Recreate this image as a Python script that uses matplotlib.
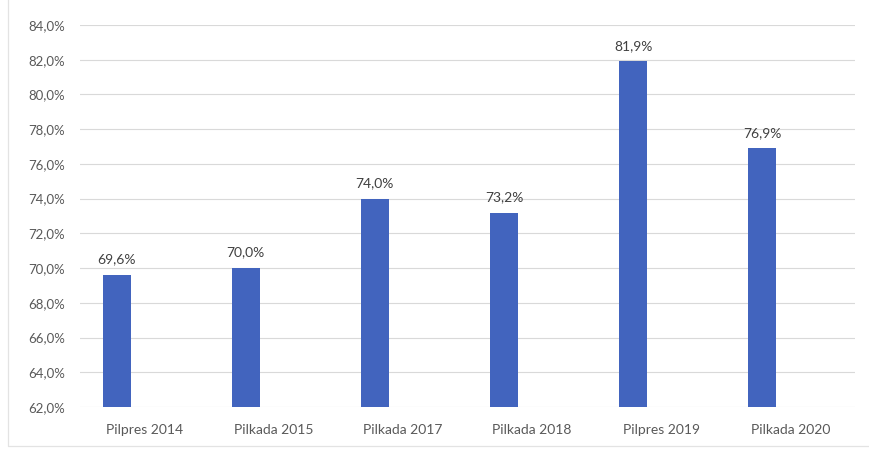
import matplotlib
matplotlib.use("Agg")
import matplotlib.pyplot as plt
from matplotlib.lines import Line2D
import numpy as np

categories = ["Pilpres 2014", "Pilkada 2015", "Pilkada 2017", "Pilkada 2018", "Pilpres 2019", "Pilkada 2020"]
values = [69.6, 70.0, 74.0, 73.2, 81.9, 76.9]
yticks = [62, 64, 66, 68, 70, 72, 74, 76, 78, 80, 82, 84]

plt.rcParams['font.family'] = ['Lato', 'DejaVu Sans']

W, H = 869, 449
fig = plt.figure(figsize=(W/100, H/100), dpi=100)
fig.patch.set_facecolor('white')
fig.add_artist(Line2D([8/W, 8/W, 1.0], [1.0, 3/H, 3/H], transform=fig.transFigure,
                      color='#e3e3e3', linewidth=0.9))

ax = fig.add_axes([80/W, 42/H, 775/W, 382/H])
x = np.arange(len(categories))
bw = 0.217
ax.bar(x - bw, [v - 62 for v in values], bottom=62, width=bw, color='#4264BE', zorder=3)
for xi, v in zip(x, values):
    ax.text(xi - bw, v + 0.55, f"{v:.1f}%".replace('.', ','), ha='center', va='bottom',
            fontsize=10, color='#404040')

ax.set_xlim(-0.5, len(categories) - 0.5)
ax.set_ylim(62, 84)
ax.set_yticks(yticks)
ax.set_yticklabels([f"{t:.1f}%".replace('.', ',') for t in yticks], fontsize=9.5, color='#595959')
ax.set_xticks(x)
ax.set_xticklabels(categories, fontsize=10, color='#595959')
ax.tick_params(axis='both', length=0)
ax.tick_params(axis='y', pad=11)
ax.tick_params(axis='x', pad=12)
ax.grid(axis='y', color='#d9d9d9', linewidth=0.8, zorder=0)
for s in ax.spines.values():
    s.set_visible(False)

fig.savefig("out.png", dpi=100)
